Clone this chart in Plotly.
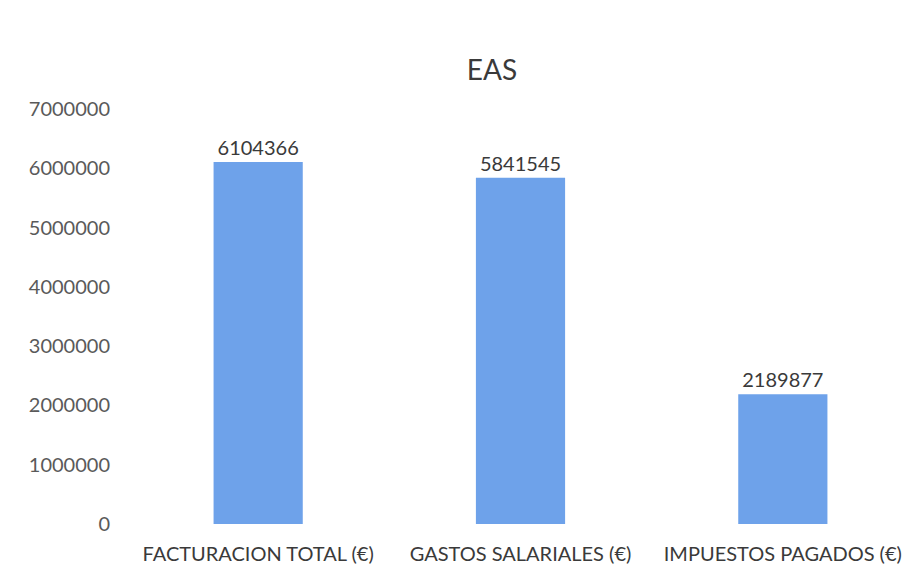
import plotly.graph_objects as go

categories = ["FACTURACION TOTAL (€)", "GASTOS SALARIALES (€)", "IMPUESTOS PAGADOS (€)"]
values = [6104366, 5841545, 2189877]
tick_vals = [0, 1000000, 2000000, 3000000, 4000000, 5000000, 6000000, 7000000]

fig = go.Figure(go.Bar(
    x=categories, y=values,
    marker=dict(color="#6ea2ea", line=dict(width=0)),
    text=[str(v) for v in values], textposition="outside",
    textfont=dict(family="Lato", size=20, color="#3a3a3a"),
    cliponaxis=False,
))
fig.update_layout(
    width=914, height=580,
    margin=dict(l=119, r=8, t=101, b=64),
    paper_bgcolor="white", plot_bgcolor="white",
    title=dict(text="EAS", x=484 / 914, xanchor="center", y=1 - 62 / 580, yanchor="middle",
               font=dict(family="Lato", size=28, color="#3a3a3a")),
    bargap=0.66,
    showlegend=False,
    font=dict(family="Lato", color="#595959"),
)
fig.update_yaxes(range=[0, 7000000], tickvals=tick_vals, ticktext=[str(v) for v in tick_vals],
                 showgrid=False, zeroline=False, showline=False,
                 tickfont=dict(family="Lato", size=20, color="#5a5a5a"), ticklen=0, ticks="",
                 ticklabelstandoff=16)
fig.update_xaxes(showgrid=False, showline=False, ticks="",
                 tickfont=dict(family="Lato", size=20, color="#3a3a3a"),
                 ticklabelstandoff=16)
fig.write_html("out.html")
